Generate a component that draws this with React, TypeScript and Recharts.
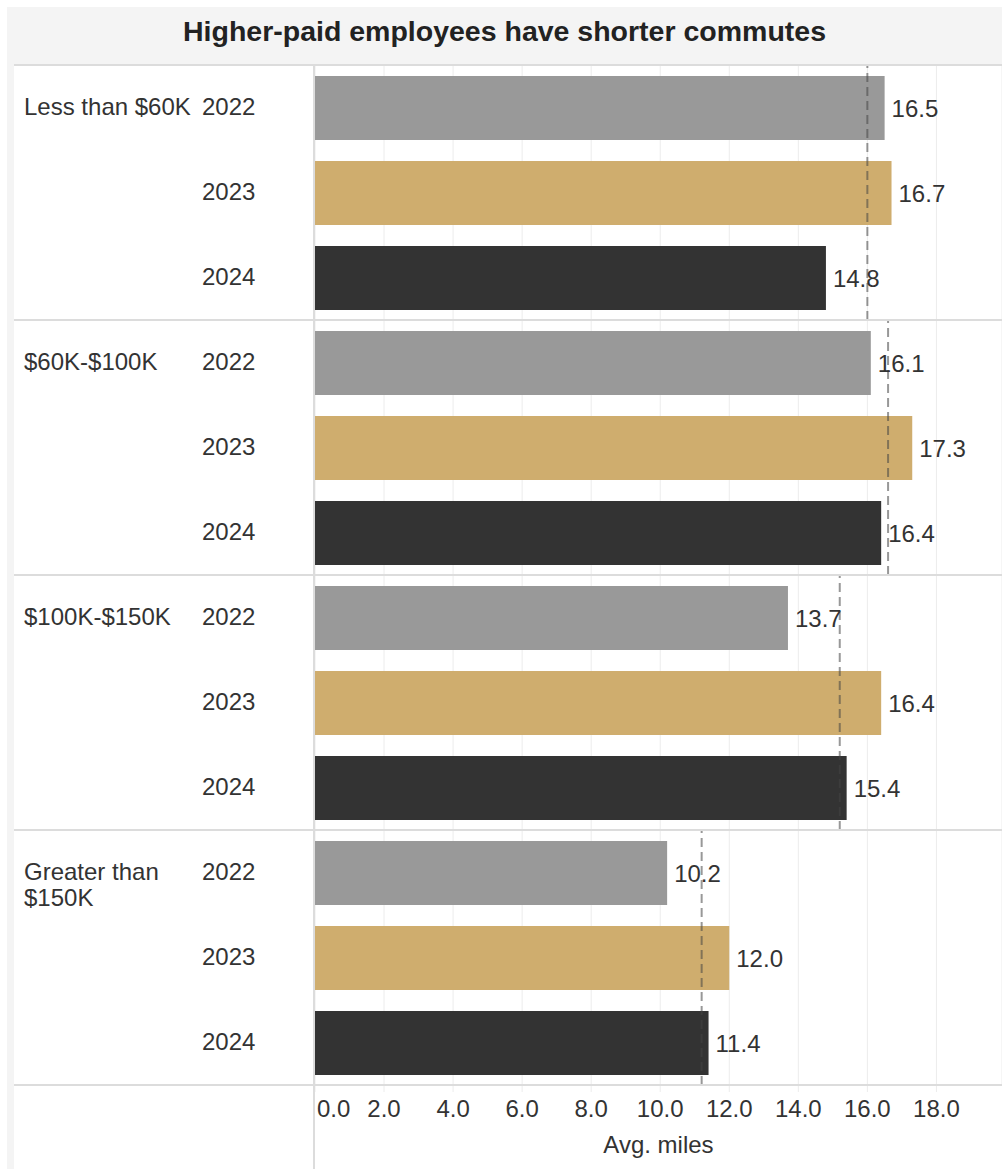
import React from 'react';
import {
  BarChart,
  Bar,
  XAxis,
  YAxis,
  CartesianGrid,
  ReferenceLine,
  LabelList,
  Cell,
} from 'recharts';

const groupLabels = [['Less than $60K'], ['$60K-$100K'], ['$100K-$150K'], ['Greater than', '$150K']];
const years = ['2022', '2023', '2024'];
const miles2022 = [16.5, 16.1, 13.7, 10.2];
const miles2023 = [16.7, 17.3, 16.4, 12.0];
const miles2024 = [14.8, 16.4, 15.4, 11.4];
const groupAvg = [16.0, 16.6, 15.2, 11.2];
const xTicks = [0, 2, 4, 6, 8, 10, 12, 14, 16, 18];

const yearColors = ['#999999', '#cfad6e', '#333333'];
const FONT = '"Liberation Sans", Arial, sans-serif';
const TEXT = '#333333';
const FS = 24;
const GROUP_H = 255;
const AXIS_H = 84;
const CHART_W = 988;
const LEFT_W = 301;

function YearTick(props: any) {
  const { y, payload, index, lines } = props;
  return (
    <g>
      {index === 0 &&
        lines.map((line: string, i: number) => (
          <text key={i} x={10} y={y + i * 26} dy="0.33em" fontSize={FS} fill={TEXT} fontFamily={FONT}>
            {line}
          </text>
        ))}
      <text x={188} y={y} dy="0.33em" fontSize={FS} fill={TEXT} fontFamily={FONT}>
        {payload.value}
      </text>
    </g>
  );
}

function MilesTick(props: any) {
  const { x, y, payload } = props;
  const first = payload.value === 0;
  return (
    <text
      x={first ? x + 2 : x}
      y={y}
      dy="0.71em"
      textAnchor={first ? 'start' : 'middle'}
      fontSize={FS}
      fill={TEXT}
      fontFamily={FONT}
    >
      {payload.value.toFixed(1)}
    </text>
  );
}

function GroupChart({ gi, last }: { gi: number; last: boolean }) {
  const rows = years.map((year, i) => ({
    year,
    miles: [miles2022, miles2023, miles2024][i][gi],
  }));
  return (
    <BarChart
      width={CHART_W}
      height={last ? GROUP_H + AXIS_H : GROUP_H}
      data={rows}
      layout="vertical"
      margin={{ top: 0, right: 0, bottom: 0, left: 0 }}
    >
      <CartesianGrid horizontal={false} stroke="#ececec" />
      <XAxis
        type="number"
        domain={[0, 19.9]}
        ticks={xTicks}
        allowDataOverflow
        hide={!last}
        height={last ? AXIS_H : 0}
        axisLine={false}
        tickLine={{ stroke: '#ececec' }}
        tickSize={7}
        tickMargin={8}
        tick={<MilesTick />}
        interval={0}
        label={{
          value: 'Avg. miles',
          position: 'insideBottom',
          offset: 16,
          fontSize: FS,
          fill: TEXT,
          fontFamily: FONT,
        }}
      />
      <YAxis
        type="category"
        dataKey="year"
        width={LEFT_W}
        axisLine={false}
        tickLine={false}
        tick={<YearTick lines={groupLabels[gi]} />}
      />
      <Bar dataKey="miles" barSize={64} isAnimationActive={false}>
        {rows.map((r, i) => (
          <Cell key={r.year} fill={yearColors[i]} />
        ))}
        <LabelList
          dataKey="miles"
          position="right"
          offset={7}
          formatter={(v: any) => Number(v).toFixed(1)}
          style={{ fontSize: FS, fill: TEXT, fontFamily: FONT }}
        />
      </Bar>
      <ReferenceLine
        x={groupAvg[gi]}
        stroke="#444444"
        strokeOpacity={0.55}
        strokeWidth={2}
        strokeDasharray="9 5"
      />
    </BarChart>
  );
}

export default function App() {
  return (
    <div style={{ position: 'absolute', left: 0, top: 0, width: 1002, height: 1169, background: '#ffffff', overflow: 'hidden' }}>
      <div style={{ position: 'absolute', left: 7, top: 7, width: 995, height: 1162, background: '#f4f4f4' }} />
      <div
        style={{
          position: 'absolute',
          left: 7,
          top: 7,
          width: 995,
          height: 48,
          lineHeight: '48px',
          textAlign: 'center',
          fontFamily: FONT,
          fontWeight: 'bold',
          fontSize: 28.5,
          color: '#222222',
        }}
      >
        Higher-paid employees have shorter commutes
      </div>
      <div style={{ position: 'absolute', left: 14, top: 64, width: CHART_W, height: 1105, background: '#ffffff' }} />
      {groupLabels.map((_, gi) => (
        <div key={gi} style={{ position: 'absolute', left: 14, top: 65 + gi * GROUP_H }}>
          <GroupChart gi={gi} last={gi === groupLabels.length - 1} />
        </div>
      ))}
      {[0, 1, 2, 3, 4].map((i) => (
        <div
          key={i}
          style={{ position: 'absolute', left: 14, top: 64 + i * GROUP_H, width: CHART_W, height: 2, background: '#dcdcdc' }}
        />
      ))}
      <div style={{ position: 'absolute', left: 313, top: 64, width: 2, height: 1105, background: '#dcdcdc' }} />
    </div>
  );
}
